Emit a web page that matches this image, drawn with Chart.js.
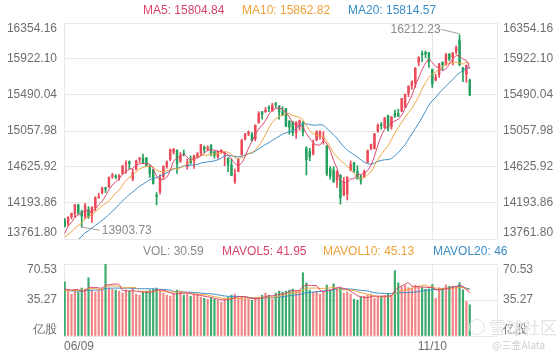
<!DOCTYPE html>
<html><head><meta charset="utf-8">
<script src="https://cdn.jsdelivr.net/npm/chart.js@4.4.1/dist/chart.umd.min.js"></script>
<style>
html,body{margin:0;padding:0;background:#fff;}
#wrap{position:relative;width:560px;height:360px;overflow:hidden;font-family:"Liberation Sans",Arial,sans-serif;}
#wrap canvas{position:absolute;left:0;top:0;}
.lg{position:absolute;font-size:12px;line-height:14px;white-space:nowrap;}
.wm{position:absolute;white-space:nowrap;}
</style></head><body>
<div id="wrap">
<canvas id="pc" width="560" height="360" style="width:560px;height:360px"></canvas>
<canvas id="vc" width="560" height="360" style="width:560px;height:360px"></canvas>
<div id="legends"></div>
<div class="wm" style="left:469px;top:319px;width:14px;height:14px;border:1.5px solid #e2e2e2;border-radius:50%;"></div>
<div class="wm" style="left:489px;top:317px;font-size:17px;color:#e4e4e4;font-family:'Noto Sans CJK SC',sans-serif;line-height:20px;">雪球社区</div>
<div class="wm" style="left:492px;top:339px;font-size:10px;color:#cfcfcf;font-family:'Noto Sans CJK SC',sans-serif;line-height:12px;">@三金Alata</div>
</div>
<script>
// ---------- data ----------
const dates = ['06/09','06/10','06/11','06/14','06/15','06/16','06/17','06/18','06/21','06/22','06/23','06/24','06/25','06/28','06/29','06/30',
'07/01','07/02','07/06','07/07','07/08','07/09','07/12','07/13','07/14','07/15','07/16','07/19','07/20','07/21','07/22','07/23','07/26','07/27','07/28','07/29','07/30',
'08/02','08/03','08/04','08/05','08/06','08/09','08/10','08/11','08/12','08/13','08/16','08/17','08/18','08/19','08/20','08/23','08/24','08/25','08/26','08/27','08/30','08/31',
'09/01','09/02','09/03','09/07','09/08','09/09','09/10','09/13','09/14','09/15','09/16','09/17','09/20','09/21','09/22','09/23','09/24','09/27','09/28','09/29','09/30',
'10/01','10/04','10/05','10/06','10/07','10/08','10/11','10/12','10/13','10/14','10/15','10/18','10/19','10/20','10/21','10/22','10/25','10/26','10/27','10/28','10/29',
'11/01','11/02','11/03','11/04','11/05','11/08','11/09','11/10','11/11','11/12','11/15','11/16','11/17','11/18','11/19','11/22','11/23','11/24','11/26'];

const open = [13985,13940,14030,14065,14168,14090,14030,14115,14045,14135,14258,14318,14378,14384,14513,14510,
14500,14547,14660,14690,14485,14600,14720,14730,14735,14640,14590,14280,14330,14510,14630,14720,14805,14830,14700,14780,14630,
14720,14700,14750,14790,14860,14850,14890,14810,14750,14820,14780,14730,14650,14450,14570,14770,14960,15025,15020,14965,15160,15290,
15290,15340,15300,15380,15360,15290,15330,15180,15170,15040,15140,15160,14850,14810,14780,14950,14990,14960,14880,14610,14590,
14470,14530,14290,14300,14590,14680,14570,14510,14510,14680,14850,14850,15060,15130,15100,15240,15110,15270,15270,15300,15340,
15510,15600,15640,15880,15990,16000,16000,15800,15670,15740,15880,15850,15980,15940,16010,16150,15820,15740,15670];

const high = [14010,14030,14074,14175,14182,14110,14190,14150,14150,14270,14312,14384,14383,14507,14550,14535,
14536,14645,14700,14700,14600,14710,14740,14780,14740,14650,14600,14320,14535,14640,14700,14840,14850,14830,14800,14830,14720,
14760,14770,14800,14896,14880,14880,14895,14815,14820,14830,14800,14740,14720,14600,14720,14960,15030,15060,15040,15130,15290,15290,
15340,15360,15390,15403,15360,15350,15330,15180,15170,15170,15190,15170,14870,14850,14950,15060,15060,15050,14880,14630,14630,
14580,14530,14500,14510,14700,14680,14640,14530,14590,14830,14900,15030,15140,15160,15220,15250,15230,15310,15320,15450,15500,
15600,15660,15820,15950,16020,16020,16000,15800,15740,15870,15890,15990,15990,16000,16080,16212.23,15820,15850,15680];

const low = [13906,13921,14003,14024,14058,13903.73,14002,14009,13960,14103,14250,14303,14319,14381,14490,14485,
14469,14540,14550,14600,14460,14590,14680,14670,14630,14500,14420,14170,14300,14490,14610,14700,14780,14550,14680,14760,14600,
14660,14610,14740,14770,14800,14820,14760,14730,14730,14790,14640,14570,14520,14430,14570,14770,14950,15000,14940,14940,15150,15200,
15280,15290,15295,15340,15200,15245,15110,15020,15000,14970,15070,15000,14530,14700,14770,14940,14960,14900,14520,14480,14440,
14380,14180,14280,14230,14580,14560,14480,14420,14500,14680,14830,14840,15040,15080,15090,15060,15080,15220,15230,15290,15340,
15470,15560,15580,15840,15890,15940,15820,15580,15660,15700,15790,15850,15900,15850,15980,15840,15650,15640,15480];

const close = [13911.75,14020.33,14069.42,14174.14,14072.86,14039.68,14161.35,14030.38,14141.48,14253.27,14271.73,14369.71,14360.39,14500.51,14528.33,14503.95,
14522.38,14639.33,14663.64,14665.06,14559.79,14701.92,14733.24,14677.65,14644.95,14543.13,14427.24,14274.98,14498.88,14631.95,14684.60,14836.99,14840.71,14660.58,14762.58,14778.26,14672.68,
14681.07,14761.29,14780.53,14895.12,14835.76,14860.18,14788.09,14765.14,14816.26,14822.90,14793.76,14656.18,14525.91,14541.79,14714.66,14942.65,15019.80,15041.86,14945.81,15129.50,15265.89,15259.24,
15309.38,15331.18,15363.52,15374.33,15286.64,15248.25,15115.49,15105.58,15037.76,15161.53,15181.92,15043.97,14713.90,14746.40,14896.85,15052.24,15047.70,14969.97,14546.68,14512.44,14448.58,
14566.70,14255.49,14433.83,14501.91,14654.02,14579.54,14486.20,14465.92,14571.64,14823.43,14897.34,15021.81,15129.09,15121.68,15215.70,15090.20,15226.71,15235.84,15235.71,15448.12,15498.39,
15595.92,15649.60,15811.58,15940.31,15971.59,15982.36,15886.54,15622.71,15704.28,15860.96,15853.85,15973.86,15921.57,15993.71,16057.44,15854.76,15775.14,15845.23,15491.66];

// volume, 亿股
const volume = [53,44,41,45,43,47,46,57,45,43,44,46,70.53,47,46,45,
44,42,45,44,47,41,40,43,44,45,46,47,44,42,40,39,41,45,44,40,41,
39,40,41,38,37,36,37,36,35,33,36,38,40,41,37,38,37,36,35,37,38,40,
42,40,36,42,44,43,44,45,46,44,45,62,52,45,43,44,41,44,50,45,51,
46,47,42,43,41,36,35,38,39,40,41,37,38,39,40,41,40,64,52,48,49.5,
47.3,46.9,49.8,48.2,47.6,45.9,46.1,50.4,37.0,47.2,46.8,50.1,48.7,48.75,47.8,52.3,45.2,33.86,30.59];

// closes / volumes of the 19 sessions before the first candle (moving-average warm-up)
const priorCloses = [13031.68,13124.99,13429.98,13379.05,13303.64,13299.74,13535.74,13470.99,13661.17,13657.17,13738.00,13736.48,13748.74,13736.28,13756.33,13614.51,13814.49,13881.72,13924.91];
const priorVolumes = [46,52,48,44,43,45,47,44,41,43,44,40,42,45,43,46,44,42,45];

const priceTicks = [13761.80,14193.86,14625.92,15057.98,15490.04,15922.10,16354.16];
const volTicks = [0,35.265,70.53];
const volTickLabels = ['亿股','35.27','70.53'];
const xLabelDates = ['06/09','11/10'];

const maNames = ['MA5','MA10','MA20'];
const maValuesText = ['15804.84','15862.82','15814.57'];
const volNames = ['VOL','MAVOL5','MAVOL10','MAVOL20'];
const volValuesText = ['30.59','41.95','45.13','46'];

// ---------- style ----------
const FONT = '12px "Liberation Sans", Arial, sans-serif';
const GRID = '#e8e8e8';
const LABEL = '#6e6e6e';
const UP = '#ec4a58', DN = '#23a05c';
const UPV = '#f28484', DNV = '#3aab6c';
const MA_COLORS = ['#da4369', '#f0a23a', '#3a8dc6'];
const SLOT_MIN = -0.2, SLOT_MAX = 127;

// ---------- helpers ----------
function movingAvg(prior, arr, n){
  const all = prior.concat(arr), off = prior.length;
  return arr.map((_, i) => {
    const end = i + off;
    if (end - n + 1 < 0) return null;
    let s = 0; for (let k = end - n + 1; k <= end; k++) s += all[k];
    return s / n;
  });
}
const pts = arr => arr.map((v, i) => ({x: i, y: v}));
const isUp = close.map((c, i) => c >= open[i]);
const candleCol = isUp.map(u => u ? UP : DN);
const volCol = isUp.map(u => u ? UPV : DNV);
const xTickIdx = xLabelDates.map(d => dates.indexOf(d));

// legends (HTML text)
const lg = document.getElementById('legends');
const maLeft = [143, 242, 348];
maNames.forEach((n, k) => {
  const d = document.createElement('div'); d.className = 'lg';
  d.style.left = maLeft[k] + 'px'; d.style.top = '3px'; d.style.color = MA_COLORS[k];
  d.textContent = n + ': ' + maValuesText[k]; lg.appendChild(d);
});
const volLeft = [143, 222, 323, 433];
const volColors = ['#8a8a8a'].concat(MA_COLORS);
volNames.forEach((n, k) => {
  const d = document.createElement('div'); d.className = 'lg';
  d.style.left = volLeft[k] + 'px'; d.style.top = '244px'; d.style.color = volColors[k];
  d.textContent = n + ': ' + volValuesText[k]; lg.appendChild(d);
});

// ---------- plugins ----------
const sideLabels = {
  id: 'sideLabels',
  afterDraw(chart, args, opts) {
    const ctx = chart.ctx, ys = chart.scales.y, ca = chart.chartArea;
    ctx.save(); ctx.font = FONT; ctx.fillStyle = LABEL; ctx.textBaseline = 'middle';
    const n = opts.values.length;
    opts.values.forEach((v, k) => {
      let py = ys.getPixelForValue(v);
      if (k === n - 1) py += 6; else if (k === 0) py -= 6;
      ctx.textAlign = 'right'; ctx.fillText(opts.labels[k], ca.left - 7, py);
      ctx.textAlign = 'left'; ctx.fillText(opts.labels[k], ca.right + 6, py);
    });
    if (opts.xLabels) {
      const xs = chart.scales.x;
      ctx.textAlign = 'center';
      opts.xLabels.forEach(i => {
        const t = dates[i], w = ctx.measureText(t).width;
        let px = xs.getPixelForValue(i);
        px = Math.max(px, ca.left + w / 2);
        ctx.fillText(t, px, ca.bottom + 11);
      });
    }
    ctx.restore();
  }
};

const extremes = {
  id: 'extremes',
  afterDatasetsDraw(chart) {
    const ctx = chart.ctx, xs = chart.scales.x, ys = chart.scales.y;
    let hi = 0, lo = 0;
    high.forEach((v, i) => { if (v > high[hi]) hi = i; });
    low.forEach((v, i) => { if (v < low[lo]) lo = i; });
    ctx.save(); ctx.font = FONT; ctx.fillStyle = '#8a8a8a'; ctx.strokeStyle = '#8a8a8a'; ctx.lineWidth = 0.8;
    ctx.textBaseline = 'middle';
    let px = xs.getPixelForValue(hi), py = ys.getPixelForValue(high[hi]);
    ctx.beginPath(); ctx.moveTo(px - 19, py - 5.5); ctx.lineTo(px, py - 1); ctx.stroke();
    ctx.textAlign = 'right'; ctx.fillText(high[hi].toFixed(2), px - 19, py - 5.5);
    px = xs.getPixelForValue(lo); py = ys.getPixelForValue(low[lo]);
    ctx.beginPath(); ctx.moveTo(px, py); ctx.lineTo(px + 18, py + 3); ctx.stroke();
    ctx.textAlign = 'left'; ctx.fillText(low[lo].toFixed(2), px + 20, py + 3.5);
    ctx.restore();
  }
};

function xScale() {
  return {
    type: 'linear', min: SLOT_MIN, max: SLOT_MAX, offset: false,
    ticks: {display: false}, grid: {color: GRID, drawTicks: false, offset: false},
    border: {display: false},
    afterFit(s) { s.height = 0; },
    afterBuildTicks(s) { s.ticks = [SLOT_MIN].concat(xTickIdx.slice(1), [SLOT_MAX]).map(v => ({value: v})); }
  };
}
function yScale(ticks) {
  return {
    min: ticks[0], max: ticks[ticks.length - 1],
    ticks: {display: false}, grid: {color: GRID, drawTicks: false},
    border: {display: false},
    afterFit(s) { s.width = 0; },
    afterBuildTicks(s) { s.ticks = ticks.map(v => ({value: v})); }
  };
}
function lineDs(label, data, color) {
  return {type: 'line', label, data: pts(data), borderColor: color, borderWidth: 1,
    pointRadius: 0, fill: false, tension: 0.25, order: 0, spanGaps: false};
}

Chart.defaults.font.family = '"Liberation Sans", Arial, sans-serif';

// ---------- price chart ----------
new Chart(document.getElementById('pc'), {
  type: 'bar',
  data: {datasets: [
    lineDs('MA5', movingAvg(priorCloses, close, 5), MA_COLORS[0]),
    lineDs('MA10', movingAvg(priorCloses, close, 10), MA_COLORS[1]),
    lineDs('MA20', movingAvg(priorCloses, close, 20), MA_COLORS[2]),
    {type: 'bar', label: 'body', data: close.map((c, i) => ({x: i, y: [open[i], c]})),
      backgroundColor: candleCol, barThickness: 1.8, grouped: false, minBarLength: 1, order: 1},
    {type: 'bar', label: 'wick', data: close.map((c, i) => ({x: i, y: [low[i], high[i]]})),
      backgroundColor: candleCol, barThickness: 1, grouped: false, order: 2}
  ]},
  options: {
    responsive: false, animation: false, devicePixelRatio: 1,
    layout: {padding: {left: 64, right: 63, top: 23, bottom: 121}},
    plugins: {legend: {display: false}, tooltip: {enabled: false},
      sideLabels: {values: priceTicks, labels: priceTicks.map(v => v.toFixed(2))}},
    scales: {x: xScale(), y: yScale(priceTicks)}
  },
  plugins: [sideLabels, extremes]
});

// ---------- volume chart ----------
new Chart(document.getElementById('vc'), {
  type: 'bar',
  data: {datasets: [
    lineDs('MAVOL5', movingAvg(priorVolumes, volume, 5), MA_COLORS[0]),
    lineDs('MAVOL10', movingAvg(priorVolumes, volume, 10), MA_COLORS[1]),
    lineDs('MAVOL20', movingAvg(priorVolumes, volume, 20), MA_COLORS[2]),
    {type: 'bar', label: 'VOL', data: pts(volume), backgroundColor: volCol,
      barThickness: 1.5, grouped: false, order: 1}
  ]},
  options: {
    responsive: false, animation: false, devicePixelRatio: 1,
    layout: {padding: {left: 64, right: 63, top: 264, bottom: 24}},
    plugins: {legend: {display: false}, tooltip: {enabled: false},
      sideLabels: {values: volTicks, labels: volTickLabels, xLabels: xTickIdx}},
    scales: {x: xScale(), y: yScale(volTicks)}
  },
  plugins: [sideLabels]
});
</script>
</body></html>
